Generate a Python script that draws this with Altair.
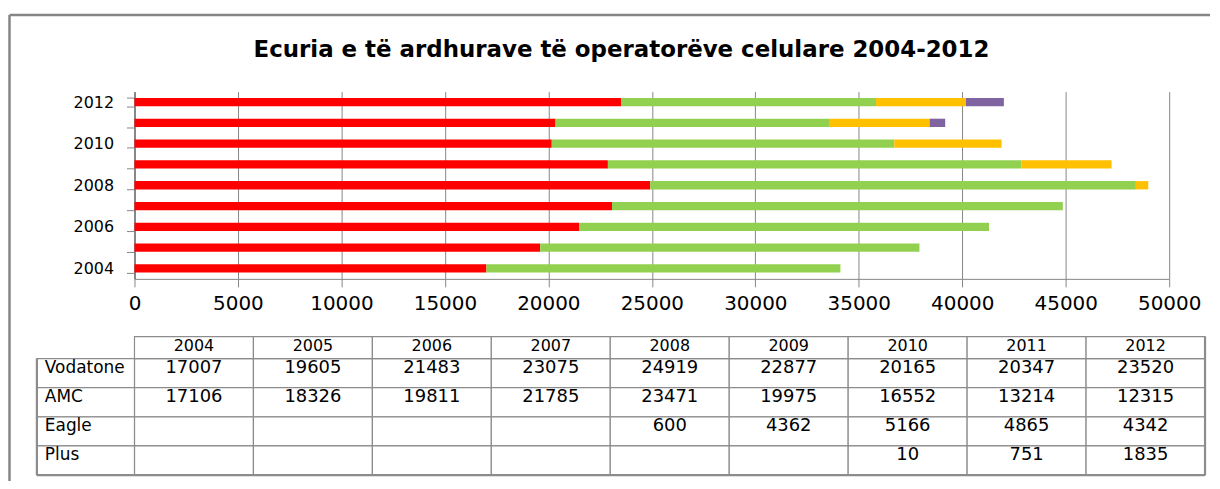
import altair as alt
import pandas as pd

years = ["2004", "2005", "2006", "2007", "2008", "2009", "2010", "2011", "2012"]
series = ["Vodatone", "AMC", "Eagle", "Plus"]
vodatone = [17007, 19605, 21483, 23075, 24919, 22877, 20165, 20347, 23520]
amc = [17106, 18326, 19811, 21785, 23471, 19975, 16552, 13214, 12315]
eagle = [None, None, None, None, 600, 4362, 5166, 4865, 4342]
plus = [None, None, None, None, None, None, 10, 751, 1835]
colors = ["#FF0000", "#92D050", "#FFC000", "#8064A2"]
x_ticks = [0, 5000, 10000, 15000, 20000, 25000, 30000, 35000, 40000, 45000, 50000]
title_text = "Ecuria e të ardhurave të operatorëve celulare 2004-2012"

GRAY = "#868686"
TGRAY = "#8c8c8c"
FONT = "DejaVu Sans"

rows = []
for i, (name, vals) in enumerate(zip(series, [vodatone, amc, eagle, plus])):
    for y, v in zip(years, vals):
        rows.append({"year": y, "series": name, "ord": i, "value": v,
                     "label": "" if v is None else str(v)})
df = pd.DataFrame(rows)
bars_df = df[df["value"].notna()].copy()

# ---------------- bar chart ----------------
W, H = 1039, 188
ysc = alt.Scale(domain=years[::-1], paddingInner=0.6, paddingOuter=0.3)

bars = alt.Chart(bars_df).mark_bar().encode(
    x=alt.X("value:Q", stack="zero",
            scale=alt.Scale(domain=[0, 50000], nice=False, zero=True),
            axis=alt.Axis(values=x_ticks, title=None, labelFont=FONT, labelFontSize=20,
                          labelColor="black", labelPadding=7, tickSize=8, tickColor=GRAY,
                          domainColor=GRAY, gridColor=GRAY, gridWidth=1, grid=True,
                          labelFlush=False, format="d")),
    y=alt.Y("year:N", scale=ysc, sort=years[::-1],
            axis=alt.Axis(title=None, tickBand="extent", grid=False,
                          labelExpr="toNumber(datum.value) % 2 == 0 ? datum.value : ''",
                          labelFont=FONT, labelFontSize=16, labelColor="black",
                          tickSize=8, tickColor=GRAY, labelPadding=13,
                          domainColor=GRAY, domainWidth=2)),
    color=alt.Color("series:N", scale=alt.Scale(domain=series, range=colors), legend=None),
    order=alt.Order("ord:Q"),
)

title_df = pd.DataFrame({"t": [title_text]})
title = alt.Chart(title_df).mark_text(font=FONT, fontWeight="bold", fontSize=23,
                                      align="center", baseline="alphabetic",
                                      color="black").encode(
    text="t:N", x=alt.value(489), y=alt.value(-35))

border_top = alt.Chart(title_df).mark_rule(color=GRAY, strokeWidth=2.5).encode(
    x=alt.value(-125.5), x2=alt.value(1080), y=alt.value(-77))
border_left = alt.Chart(title_df).mark_rule(color=GRAY, strokeWidth=2.5).encode(
    x=alt.value(-125.5), y=alt.value(-77), y2=alt.value(391))

bar_chart = alt.layer(bars, title, border_top, border_left).properties(width=W, height=H)

# ---------------- data table ----------------
TW, TH = 1075, 117
tx = alt.Scale(domain=years, paddingInner=0, paddingOuter=0)
ty = alt.Scale(domain=series, paddingInner=0, paddingOuter=0)

years_df = pd.DataFrame({"year": years})
series_df = pd.DataFrame({"series": series})

cells = alt.Chart(df).mark_rect(fill="white", stroke=TGRAY, strokeWidth=1.2).encode(
    x=alt.X("year:N", scale=tx, axis=None),
    y=alt.Y("series:N", scale=ty, axis=None))

head_cells = alt.Chart(years_df).mark_rect(fill="white", stroke=TGRAY, strokeWidth=1.2).encode(
    x=alt.X("year:N", scale=tx, axis=None), y=alt.value(-22), y2=alt.value(0))

head_text = alt.Chart(years_df).mark_text(font=FONT, fontSize=16, color="black",
                                          baseline="alphabetic").encode(
    x=alt.X("year:N", scale=tx, axis=None), y=alt.value(-8), text="year:N")

label_cells = alt.Chart(series_df).mark_rect(fill="white", stroke=TGRAY, strokeWidth=1.2).encode(
    x=alt.value(-98), x2=alt.value(0),
    y=alt.Y("series:N", scale=ty, axis=None))

label_text = alt.Chart(series_df).mark_text(font=FONT, fontSize=17, color="black",
                                            align="left", baseline="alphabetic", dy=14.5).encode(
    x=alt.value(-90),
    y=alt.Y("series:N", scale=ty, axis=None, bandPosition=0),
    text="series:N")

value_text = alt.Chart(df).mark_text(font=FONT, fontSize=18, color="black",
                                     baseline="alphabetic", dy=14.5).encode(
    x=alt.X("year:N", scale=tx, axis=None),
    y=alt.Y("series:N", scale=ty, axis=None, bandPosition=0),
    text="label:N")

# thicker outer frame of the table
frame_df = pd.DataFrame({"k": [0]})
frame_bottom = alt.Chart(frame_df).mark_rule(color=TGRAY, strokeWidth=2.2).encode(
    x=alt.value(-98), x2=alt.value(TW), y=alt.value(TH))
frame_right = alt.Chart(frame_df).mark_rule(color=TGRAY, strokeWidth=2.2).encode(
    x=alt.value(TW), y=alt.value(-22), y2=alt.value(TH))
frame_left = alt.Chart(frame_df).mark_rule(color=TGRAY, strokeWidth=2.2).encode(
    x=alt.value(-98), y=alt.value(0), y2=alt.value(TH))

table = alt.layer(cells, head_cells, label_cells, frame_bottom, frame_right, frame_left,
                  head_text, label_text, value_text).properties(width=TW, height=TH)

chart = alt.vconcat(bar_chart, table, spacing=80, bounds="flush").configure_view(
    stroke=None).properties(padding={"left": 0, "top": 4, "right": 0, "bottom": 0})

chart.save("out.html", embed_options={"renderer": "svg", "actions": False})
